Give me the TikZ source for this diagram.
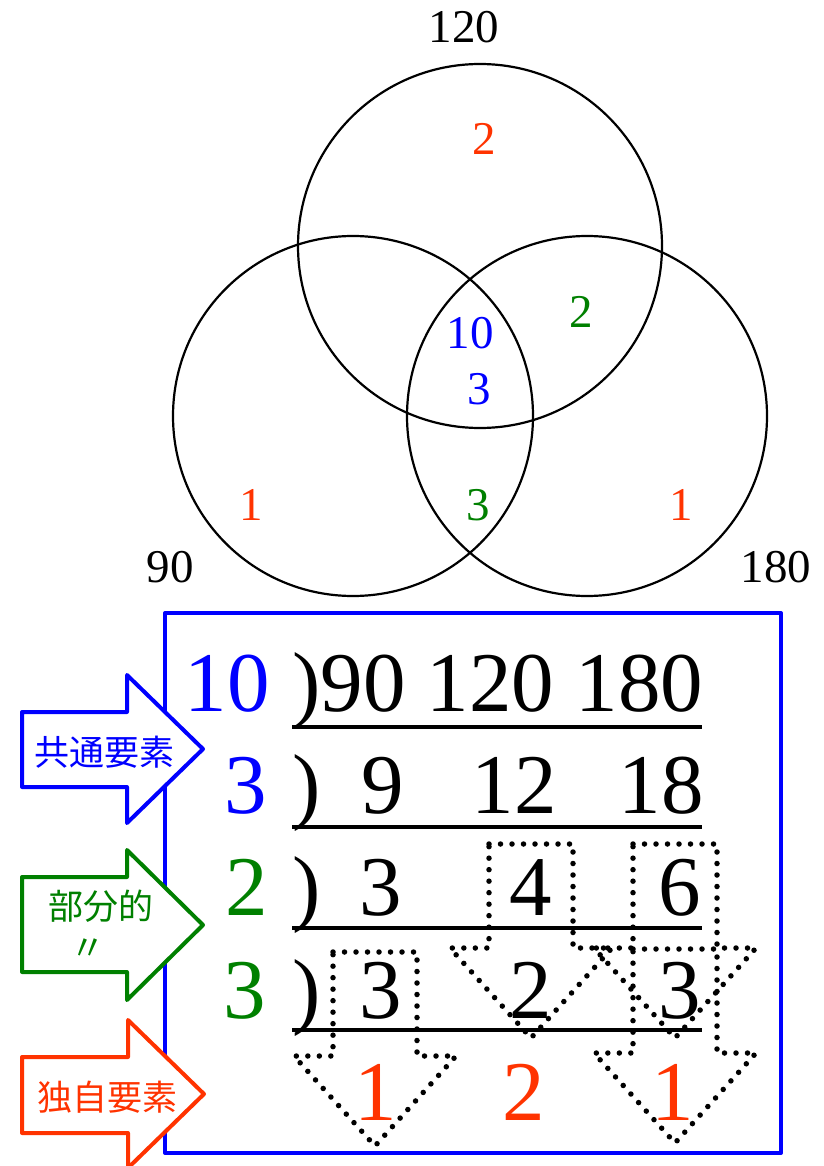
\documentclass[tikz,border=0pt]{standalone}
\usepackage{fontspec}
\setmainfont{Liberation Serif}
\newfontfamily\cjk{Noto Sans CJK JP}
\definecolor{vblue}{RGB}{0,0,255}
\definecolor{vgreen}{RGB}{0,128,0}
\definecolor{vred}{RGB}{255,51,0}
\begin{document}
\begin{tikzpicture}[x=1pt,y=-1pt,
  venn/.style={draw=black,line width=2.2pt},
  vlab/.style={anchor=base,inner sep=0pt,font=\fontsize{47}{47}\selectfont},
  big/.style={anchor=base,inner sep=0pt,font=\fontsize{85}{85}\selectfont},
  divline/.style={line width=3.5pt},
  dotline/.style={line width=5.5pt,dash pattern=on 0pt off 11.5pt,line cap=round,line join=round},
  blockarrow/.style={line width=4pt,fill=white,line join=round},
  cjklab/.style={inner sep=0pt,font=\cjk\fontsize{35}{35}\selectfont},
  dotarrow/.pic={\draw[dotline] (-42,0) -- (42,0) -- (42,104) -- (81,104) -- (0,194) -- (-81,104) -- (-42,104) -- cycle;}
]
\useasboundingbox (0,0) rectangle (823,1166);
% Venn diagram
\draw[venn] (480,246) circle[radius=182pt];
\draw[venn] (353,416) circle[radius=180pt];
\draw[venn] (587,416) circle[radius=180pt];
\node[vlab] (l120) at (464,43) {120};
\node[vlab] (l90) at (170,582) {90};
\node[vlab] (l180) at (776,582) {180};
\node[vlab,text=vred] (r2) at (484,155) {2};
\node[vlab,text=vgreen] (g2) at (581,327) {2};
\node[vlab,text=vblue] (b10) at (470,348) {10};
\node[vlab,text=vblue] (b3) at (479,404) {3};
\node[vlab,text=vred] (r1l) at (251,520) {1};
\node[vlab,text=vgreen] (g3) at (478,520) {3};
\node[vlab,text=vred] (r1r) at (681,520) {1};
% blue frame
\draw[draw=vblue,line width=4pt,line join=round] (165,613) rectangle (781,1153);
% division rows
\node[big,anchor=base east,text=vblue] (d1) at (270,711) {10};
\node[big,anchor=base west] (row1) at (292,711) {)90 120 180};
\node[big,anchor=base east,text=vblue] (d2) at (267,813) {3};
\node[big,anchor=base west] (p2) at (292,813) {)};
\node[big] (n29) at (383,813) {9};
\node[big] (n212) at (514,813) {12};
\node[big] (n218) at (661,813) {18};
\node[big,anchor=base east,text=vgreen] (d3) at (268,915) {2};
\node[big,anchor=base west] (p3) at (292,915) {)};
\node[big] (n33) at (381,915) {3};
\node[big] (n34) at (531,915) {4};
\node[big] (n36) at (680,915) {6};
\node[big,anchor=base east,text=vgreen] (d4) at (266,1018) {3};
\node[big,anchor=base west] (p4) at (292,1018) {)};
\node[big] (n43) at (381,1018) {3};
\node[big] (n42) at (531,1018) {2};
\node[big] (n433) at (680,1018) {3};
\node[big,text=vred] (n51) at (376,1120) {1};
\node[big,text=vred] (n52) at (524,1120) {2};
\node[big,text=vred] (n511) at (673,1120) {1};
\draw[divline] (292,727) -- (702,727);
\draw[divline] (292,827) -- (702,827);
\draw[divline] (292,928) -- (702,928);
\draw[divline] (292,1030) -- (702,1030);
% dotted arrows
\pic at (531,844) {dotarrow};
\pic at (675,844) {dotarrow};
\pic at (675,949) {dotarrow};
\pic at (375,952) {dotarrow};
% block arrows
\draw[blockarrow,draw=vblue] (22,712) -- (127,712) -- (127,675) -- (203,749) -- (127,823) -- (127,787) -- (22,787) -- cycle;
\node[cjklab,text=vblue] (t1) at (104,752) {共通要素};
\draw[blockarrow,draw=vgreen] (22,877) -- (127,877) -- (127,850) -- (203,925) -- (127,1000) -- (127,972) -- (22,972) -- cycle;
\node[cjklab,text=vgreen] (t2) at (101,906) {部分的};
\node[cjklab,text=vgreen] (t2b) at (88,950) {〃};
\draw[blockarrow,draw=vred] (22,1057) -- (128,1057) -- (128,1020) -- (204,1094) -- (128,1168) -- (128,1133) -- (22,1133) -- cycle;
\node[cjklab,text=vred] (t3) at (107,1097) {独自要素};
\end{tikzpicture}
\end{document}
